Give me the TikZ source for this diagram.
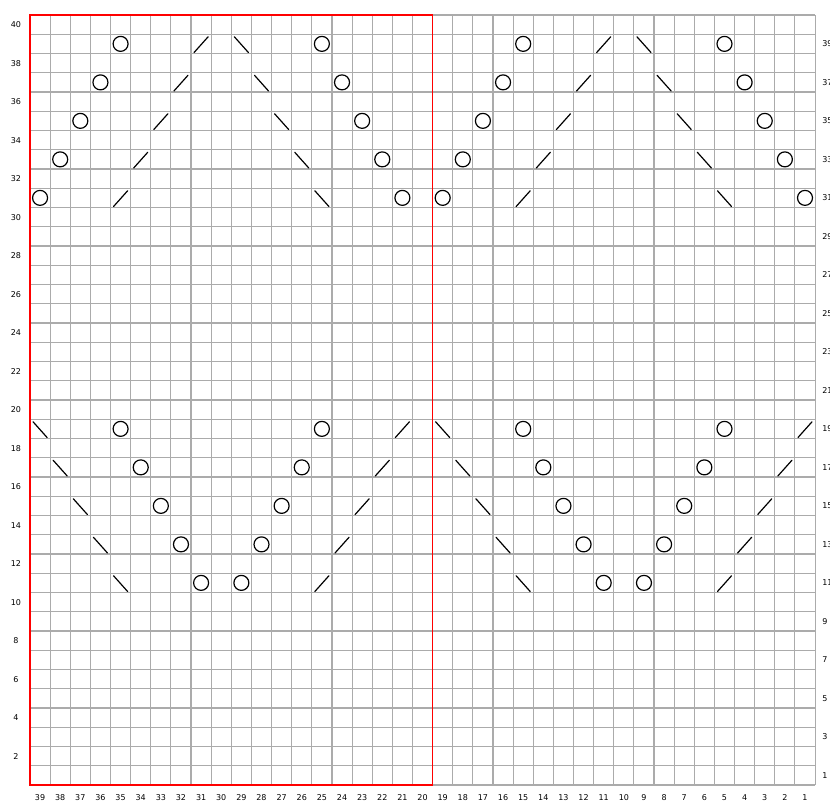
\documentclass[tikz,border=0pt]{standalone}
\usepackage{fontspec}
\setmainfont{DejaVu Sans}
\newcommand{\yocirc}[2]{\draw[sym] ({39.5-(#1)},{(#2)-0.5}) circle[radius=7.5pt];}
\newcommand{\ktog}[2]{\draw[sym] ({39.15-(#1)},{(#2)-0.95}) -- ({39.85-(#1)},{(#2)-0.13});}
\newcommand{\sskl}[2]{\draw[sym] ({39.15-(#1)},{(#2)-0.13}) -- ({39.85-(#1)},{(#2)-0.95});}

\begin{document}
\begin{tikzpicture}[x=1pt,y=1pt,font=\fontsize{8}{9}\selectfont,
  gridln/.style={draw=black!33,line width=1.1pt},
  frame/.style={draw=red,line width=1.3pt},
  sym/.style={line width=1.2pt,line cap=round},
  num/.style={inner sep=0pt}]
\useasboundingbox (0,0) rectangle (830,801);
\fill[white] (0,0) rectangle (830,801);
\begin{scope}[shift={(30,16)},x=20.13pt,y=19.25pt]
  \draw[gridln,step=1] (0,0) grid (39,40);
  \draw[frame] (0,0) rectangle (20,40);
  % row and stitch numbers
  \foreach \r in {2,4,...,40} \node[num] (lrow\r) at (-0.7,\r-0.5) {\r};
  \foreach \r in {1,3,...,39} \node[num,anchor=west] (rrow\r) at (39.35,\r-0.5) {\r};
  \foreach \c in {1,...,39} \node[num] (col\c) at (39.5-\c,-0.66) {\c};
  % lace motifs, repeat of 20 stitches
  \foreach \k in {0,...,4}
    \foreach \s in {0,20}{
      \yocirc{35+\k-\s}{39-2*\k} \ktog{31+\k-\s}{39-2*\k}
      \sskl{29-\k-\s}{39-2*\k} \yocirc{25-\k-\s}{39-2*\k}
      \sskl{39-\k-\s}{19-2*\k} \yocirc{35-\k-\s}{19-2*\k}
      \yocirc{25+\k-\s}{19-2*\k} \ktog{21+\k-\s}{19-2*\k}
    }
\end{scope}
\end{tikzpicture}
\end{document}
